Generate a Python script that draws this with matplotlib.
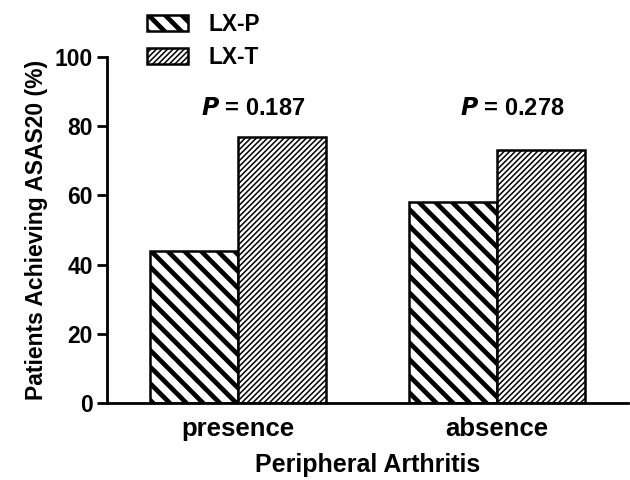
import numpy as np
import matplotlib
matplotlib.use('Agg')
import matplotlib.pyplot as plt

# data
categories = ['presence', 'absence']
lxp_values = [44, 58]
lxt_values = [77, 73]
p_labels = ['0.187', '0.278']
series_names = ['LX-P', 'LX-T']

plt.rcParams['font.family'] = ['Liberation Sans', 'DejaVu Sans']
plt.rcParams['font.weight'] = 'bold'

fig = plt.figure(figsize=(6.3, 4.8), dpi=100)
ax = fig.add_axes([107 / 630, 1 - 403 / 480, (628 - 107) / 630, (403 - 57) / 480])

x = np.arange(len(categories))
w = 0.34

bars_p = ax.bar(x - w / 2, lxp_values, w, facecolor='white', edgecolor='black',
                linewidth=1.8, hatch='\\\\', label=series_names[0])
bars_t = ax.bar(x + w / 2, lxt_values, w, facecolor='white', edgecolor='black',
                linewidth=1.8, hatch='//////', label=series_names[1])
for b in bars_p:
    b.set_hatch_linewidth(3.4)
for b in bars_t:
    b.set_hatch_linewidth(1.1)

# p-value annotations
for xi, p in zip(x, p_labels):
    ax.text(xi + 0.06, 85, r'$\bfit{P}$' + ' = ' + p, ha='center', va='center',
            fontsize=17, fontweight='bold')

ax.set_xlim(-0.506, 1.506)
ax.set_ylim(0, 100)
ax.set_yticks([0, 20, 40, 60, 80, 100])
ax.set_xticks(x)
ax.set_xticklabels(categories, fontsize=18.5, fontweight='bold')
ax.tick_params(axis='y', labelsize=16.5, width=2, length=7, direction='out', pad=3)
ax.tick_params(axis='x', length=0, pad=10)
for lbl in ax.get_yticklabels():
    lbl.set_fontweight('bold')

ax.set_xlabel('Peripheral Arthritis', fontsize=18, fontweight='bold', labelpad=9)
ax.set_ylabel('Patients Achieving ASAS20 (%)', fontsize=16.5, fontweight='bold', labelpad=5)

for s in ['top', 'right']:
    ax.spines[s].set_visible(False)
for s in ['left', 'bottom']:
    ax.spines[s].set_linewidth(2)

leg = fig.legend(handles=[bars_p, bars_t], loc='upper left',
                 bbox_to_anchor=(147 / 630, 1 - 13 / 480), frameon=False,
                 handlelength=1.8, handleheight=0.7,
                 handletextpad=0.9, labelspacing=0.45, borderpad=0, borderaxespad=0,
                 prop={'weight': 'bold', 'size': 16.3})
for patch, hw in zip(leg.get_patches(), [3.4, 1.1]):
    patch.set_hatch_linewidth(hw)
    patch.set_linewidth(1.8)

fig.savefig('out.png', dpi=100)
